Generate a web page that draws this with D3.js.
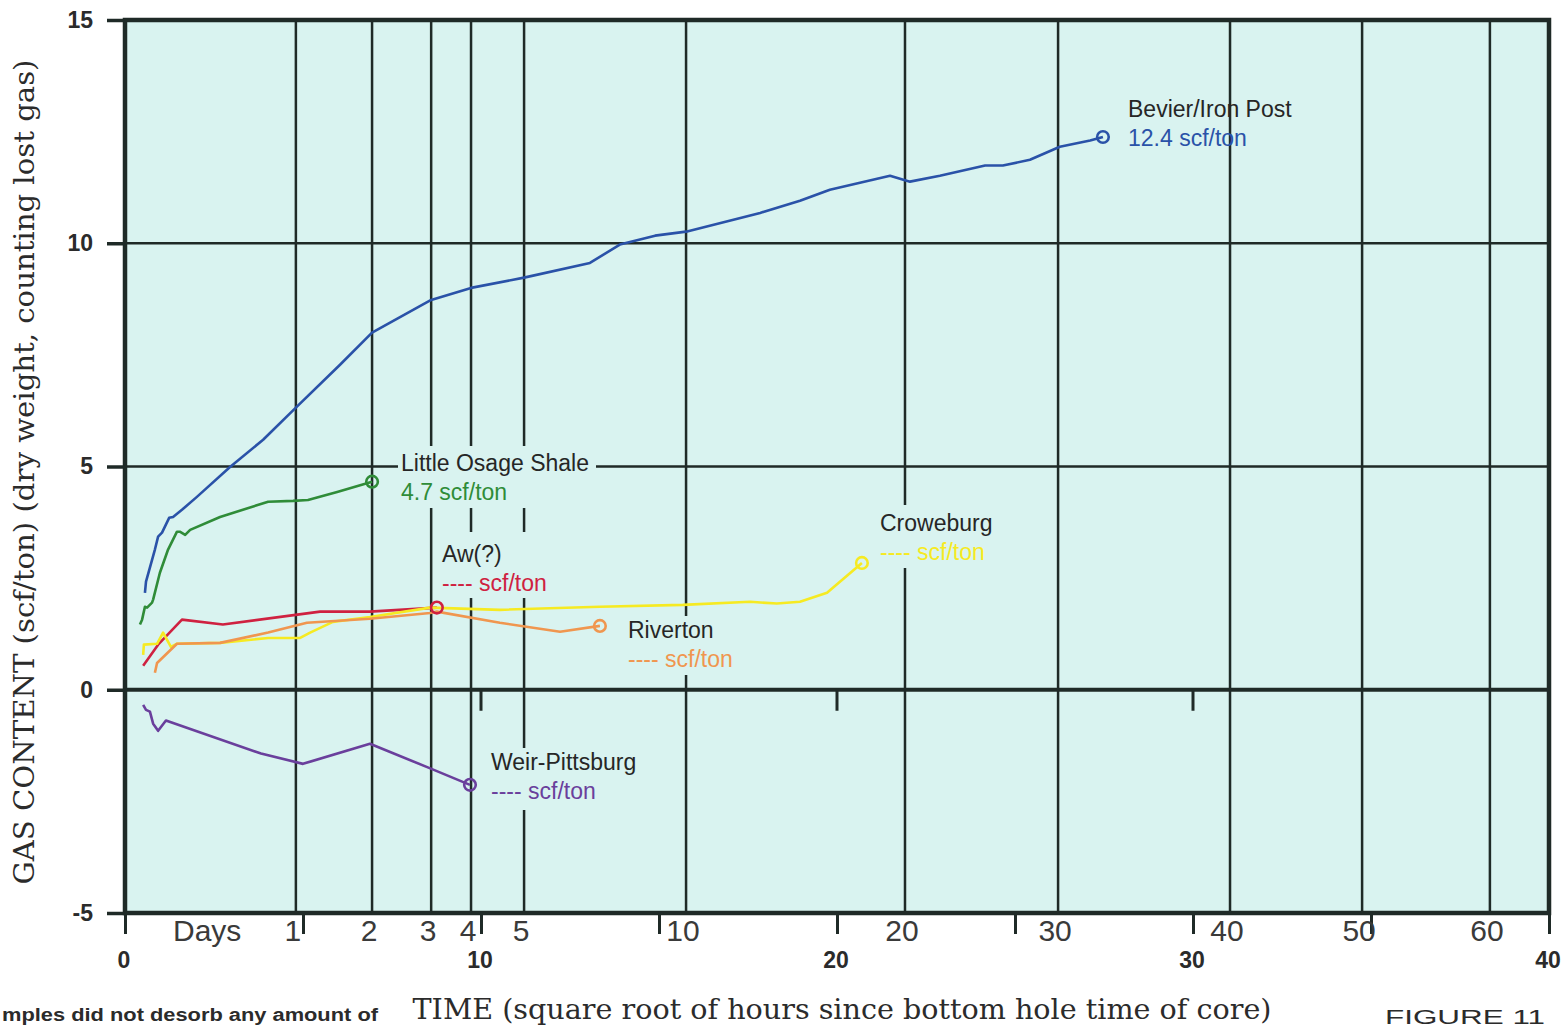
<!DOCTYPE html>
<html>
<head>
<meta charset="utf-8">
<script src="https://cdn.jsdelivr.net/npm/d3@7"></script>
<style>
  body { margin: 0; background: #fff; }
  figure { margin: 0; }
  svg { display: block; }
</style>
</head>
<body>
<figure id="gas-chart"></figure>
<script>
const width = 1564, height = 1027;

// axis ticks
const gasTicks = [-5, 0, 5, 10, 15];
const hourLabels = [0, 10, 20, 30, 40];
const hourMinor = [0, 5, 10, 15, 20, 25, 30, 35, 40];
const zeroLineTicks = [10, 20, 30];

// day grid lines, located in sqrt(hours) as drawn on the figure
const dayNames = ["1", "2", "3", "4", "5", "10", "20", "30", "40", "50", "60"];
const dayT = [4.80, 6.94, 8.60, 9.72, 11.21, 15.76, 21.91, 26.21, 31.04, 34.75, 38.34];

// series: sqrt(hours) and gas content (scf/ton)
const bevierT = [0.56, 0.59, 0.84, 0.93, 1.04, 1.24, 1.35, 1.60, 2.02, 2.95, 3.88, 4.80, 6.04, 6.94, 8.60, 9.72, 11.21, 13.06, 13.90, 14.89, 15.76, 17.84, 18.96, 19.80, 21.49, 22.05, 22.89, 24.16, 24.66, 25.42, 26.26, 27.11, 27.47];
const bevierG = [2.17, 2.42, 3.14, 3.43, 3.52, 3.85, 3.87, 4.03, 4.32, 4.99, 5.60, 6.32, 7.28, 8.00, 8.73, 9.00, 9.23, 9.56, 9.97, 10.17, 10.26, 10.68, 10.95, 11.20, 11.51, 11.38, 11.51, 11.74, 11.74, 11.87, 12.16, 12.30, 12.38];

const osageT = [0.42, 0.48, 0.56, 0.62, 0.76, 0.79, 0.98, 1.21, 1.46, 1.54, 1.69, 1.83, 2.67, 4.02, 4.72, 5.14, 5.96, 6.94];
const osageG = [1.46, 1.57, 1.86, 1.84, 1.95, 2.02, 2.62, 3.14, 3.54, 3.54, 3.47, 3.58, 3.87, 4.21, 4.23, 4.25, 4.43, 4.66];

const awT = [0.51, 0.93, 1.60, 2.75, 5.48, 6.88, 8.76];
const awG = [0.54, 1.01, 1.57, 1.46, 1.75, 1.75, 1.84];

const croweT = [0.51, 0.53, 0.90, 1.07, 1.29, 1.46, 2.67, 4.02, 4.92, 5.20, 5.84, 6.88, 8.57, 10.53, 13.34, 15.67, 17.56, 18.31, 18.96, 19.72, 20.70];
const croweG = [0.78, 1.01, 1.03, 1.28, 0.96, 1.03, 1.05, 1.16, 1.16, 1.28, 1.52, 1.63, 1.84, 1.79, 1.86, 1.90, 1.97, 1.93, 1.97, 2.17, 2.84];

const rivertonT = [0.84, 0.90, 1.46, 2.67, 4.02, 5.11, 6.88, 8.57, 8.76, 10.53, 12.22, 13.34];
const rivertonG = [0.38, 0.60, 1.03, 1.05, 1.28, 1.50, 1.59, 1.72, 1.75, 1.50, 1.30, 1.43];

const weirT = [0.51, 0.59, 0.70, 0.79, 0.93, 1.15, 3.82, 5.00, 6.88, 8.54, 9.69];
const weirG = [-0.34, -0.45, -0.49, -0.76, -0.92, -0.69, -1.43, -1.66, -1.21, -1.75, -2.13];

const seriesNames = ["Bevier/Iron Post", "Little Osage Shale", "Aw(?)", "Croweburg", "Riverton", "Weir-Pittsburg"];
const seriesValues = ["12.4 scf/ton", "4.7 scf/ton", "---- scf/ton", "---- scf/ton", "---- scf/ton", "---- scf/ton"];

const series = [
  { t: bevierT, g: bevierG, color: "#2a52a8" },
  { t: osageT, g: osageG, color: "#2f8c38" },
  { t: awT, g: awG, color: "#cf2140" },
  { t: croweT, g: croweG, color: "#f6ea22" },
  { t: rivertonT, g: rivertonG, color: "#f0964f" },
  { t: weirT, g: weirG, color: "#6a3f9c" }
].map((s, i) => ({
  ...s,
  name: seriesNames[i],
  value: seriesValues[i],
  points: s.t.map((t, j) => [t, s.g[j]])
}));

// label placement (pixels) and the patches of background the labels sit on
const labelLayout = [
  { x: 1128, y: 117, knock: null },
  { x: 401, y: 471, knock: [398, 446, 198, 62] },
  { x: 442, y: 562, knock: [440, 532, 112, 66] },
  { x: 880, y: 531, knock: [876, 505, 124, 63] },
  { x: 628, y: 638, knock: [624, 616, 116, 59] },
  { x: 491, y: 770, knock: [488, 748, 158, 62] }
];

const ink = "#1f2a27";
const textInk = "#2b2b2b";
const paper = "#d9f3f0";

const svg = d3.select("figure#gas-chart")
  .append("svg")
  .attr("width", width)
  .attr("height", height);

const x = d3.scaleLinear().domain([0, 40]).range([125, 1549]);
const y = d3.scaleLinear().domain([-5, 15]).range([913, 20]);

// plot background
svg.append("rect")
  .attr("x", x(0)).attr("y", y(15))
  .attr("width", x(40) - x(0)).attr("height", y(-5) - y(15))
  .attr("fill", paper);

// horizontal grid
svg.append("g")
  .selectAll("line")
  .data([5, 10])
  .enter()
  .append("line")
  .attr("x1", x(0)).attr("x2", x(40))
  .attr("y1", d => y(d)).attr("y2", d => y(d))
  .attr("stroke", ink).attr("stroke-width", 2.5);

// day grid lines
svg.append("g")
  .selectAll("line")
  .data(dayT)
  .enter()
  .append("line")
  .attr("x1", d => x(d)).attr("x2", d => x(d))
  .attr("y1", y(15)).attr("y2", y(-5))
  .attr("stroke", ink).attr("stroke-width", 2.5);

// knock-outs behind labels
svg.append("g")
  .selectAll("rect")
  .data(labelLayout.filter(d => d.knock))
  .enter()
  .append("rect")
  .attr("x", d => d.knock[0]).attr("y", d => d.knock[1])
  .attr("width", d => d.knock[2]).attr("height", d => d.knock[3])
  .attr("fill", paper);

// zero line
svg.append("line")
  .attr("x1", x(0)).attr("x2", x(40))
  .attr("y1", y(0)).attr("y2", y(0))
  .attr("stroke", ink).attr("stroke-width", 4);

svg.append("g")
  .selectAll("line")
  .data(zeroLineTicks)
  .enter()
  .append("line")
  .attr("x1", d => x(d)).attr("x2", d => x(d))
  .attr("y1", y(0)).attr("y2", y(0) + 21)
  .attr("stroke", ink).attr("stroke-width", 3);

// frame
svg.append("rect")
  .attr("x", x(0)).attr("y", y(15))
  .attr("width", x(40) - x(0)).attr("height", y(-5) - y(15))
  .attr("fill", "none")
  .attr("stroke", ink).attr("stroke-width", 4.5);

// y axis
const yAxis = svg.append("g")
  .attr("transform", "translate(" + x(0) + ",0)")
  .call(d3.axisLeft(y).tickValues(gasTicks).tickSize(18).tickPadding(14).tickFormat(d => String(d)));
yAxis.select(".domain").remove();
yAxis.selectAll(".tick line").attr("stroke", ink).attr("stroke-width", 3.5);
yAxis.selectAll(".tick text")
  .attr("fill", textInk)
  .style("font-family", "'Liberation Sans', Arial, sans-serif")
  .style("font-size", "23px")
  .style("font-weight", "bold");

// x axis (sqrt hours) below the frame
const xAxis = svg.append("g")
  .attr("transform", "translate(0," + y(-5) + ")")
  .call(d3.axisBottom(x).tickValues(hourMinor).tickSize(21).tickFormat(""));
xAxis.select(".domain").remove();
xAxis.selectAll(".tick line").attr("stroke", ink).attr("stroke-width", 3);

svg.append("g")
  .selectAll("text")
  .data(hourLabels)
  .enter()
  .append("text")
  .attr("x", d => x(d) - 1)
  .attr("y", 968)
  .attr("text-anchor", "middle")
  .attr("fill", textInk)
  .style("font-family", "'Liberation Sans', Arial, sans-serif")
  .style("font-size", "23px")
  .style("font-weight", "bold")
  .text(d => d);

// day labels
svg.append("text")
  .attr("x", 173).attr("y", 941)
  .attr("fill", "#3a3a3a")
  .style("font-family", "'Liberation Sans', Arial, sans-serif")
  .style("font-size", "30px")
  .text("Days");

svg.append("g")
  .selectAll("text")
  .data(dayT)
  .enter()
  .append("text")
  .attr("x", d => x(d) - 3)
  .attr("y", 941)
  .attr("text-anchor", "middle")
  .attr("fill", "#3a3a3a")
  .style("font-family", "'Liberation Sans', Arial, sans-serif")
  .style("font-size", "30px")
  .text((d, i) => dayNames[i]);

// series lines
const line = d3.line().x(d => x(d[0])).y(d => y(d[1]));

svg.append("g")
  .selectAll("path")
  .data(series)
  .enter()
  .append("path")
  .attr("d", d => line(d.points))
  .attr("fill", "none")
  .attr("stroke", d => d.color)
  .attr("stroke-width", 2.6)
  .attr("stroke-linejoin", "round");

// end markers
svg.append("g")
  .selectAll("circle")
  .data(series)
  .enter()
  .append("circle")
  .attr("cx", d => x(d.points[d.points.length - 1][0]))
  .attr("cy", d => y(d.points[d.points.length - 1][1]))
  .attr("r", 5.8)
  .attr("fill", "none")
  .attr("stroke", d => d.color)
  .attr("stroke-width", 2.6);

// series labels
const labels = svg.append("g")
  .selectAll("g")
  .data(series)
  .enter()
  .append("g")
  .attr("transform", (d, i) => "translate(" + labelLayout[i].x + "," + labelLayout[i].y + ")")
  .style("font-family", "'Liberation Sans', Arial, sans-serif")
  .style("font-size", "23px");

labels.append("text")
  .attr("fill", "#262626")
  .text(d => d.name);

labels.append("text")
  .attr("y", 29)
  .attr("fill", d => d.color)
  .text(d => d.value);

// axis titles
svg.append("text")
  .attr("transform", "translate(34,472) rotate(-90)")
  .attr("text-anchor", "middle")
  .attr("textLength", 825)
  .attr("lengthAdjust", "spacingAndGlyphs")
  .attr("fill", textInk)
  .style("font-family", "'DejaVu Serif', serif")
  .style("font-size", "28px")
  .text("GAS CONTENT (scf/ton) (dry weight, counting lost gas)");

svg.append("text")
  .attr("x", 842).attr("y", 1019)
  .attr("text-anchor", "middle")
  .attr("textLength", 859)
  .attr("lengthAdjust", "spacingAndGlyphs")
  .attr("fill", textInk)
  .style("font-family", "'DejaVu Serif', serif")
  .style("font-size", "28px")
  .text("TIME (square root of hours since bottom hole time of core)");

// notes at the bottom edge of the page
svg.append("text")
  .attr("x", 2).attr("y", 1021)
  .attr("textLength", 376)
  .attr("lengthAdjust", "spacingAndGlyphs")
  .attr("fill", textInk)
  .style("font-family", "'Liberation Sans', Arial, sans-serif")
  .style("font-size", "18px")
  .style("font-weight", "bold")
  .text("mples did not desorb any amount of");

svg.append("text")
  .attr("x", 1385).attr("y", 1024)
  .attr("textLength", 160)
  .attr("lengthAdjust", "spacingAndGlyphs")
  .attr("fill", textInk)
  .style("font-family", "'Liberation Sans', Arial, sans-serif")
  .style("font-size", "20px")
  .text("FIGURE 11");
</script>
</body>
</html>
